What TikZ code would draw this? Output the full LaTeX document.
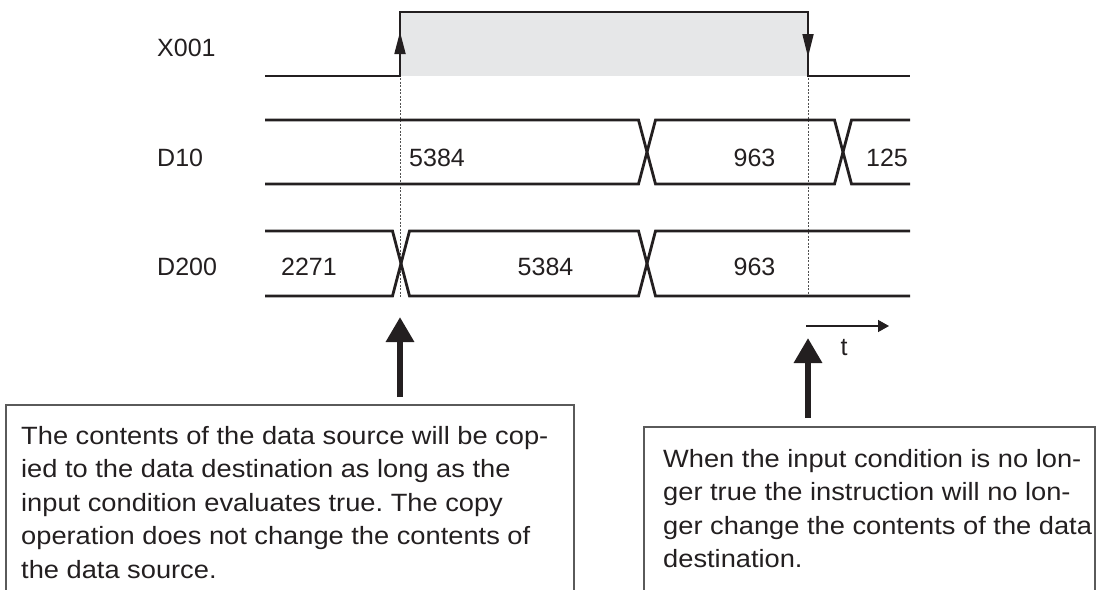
\documentclass[tikz,border=0pt]{standalone}
\usepackage{fontspec}
\setmainfont{Liberation Sans}
\newfontfamily\bodyfont[FakeStretch=1.09]{Liberation Sans}
\usetikzlibrary{arrows.meta}
\definecolor{fillgray}{HTML}{E6E7E8}
\definecolor{dashgray}{HTML}{505050}
\definecolor{boxgray}{HTML}{5A5A5A}
\definecolor{ink}{HTML}{231F20}
\frenchspacing
\tikzset{
  sig/.style={line width=2.8pt, ink},
  lbl/.style={font=\fontsize{25}{30}\selectfont, anchor=base west, inner sep=0pt, text=ink},
  val/.style={font=\fontsize{25}{30}\selectfont, anchor=base, inner sep=0pt, text=ink},
  note/.style={font=\bodyfont\fontsize{25}{33.5}\selectfont\frenchspacing, anchor=base west, inner sep=0pt, align=left, text=ink},
  cue/.style={dashgray, line width=0.9pt, dash pattern=on 2pt off 1.5pt},
  bigarrow/.style={ink, line width=6.5pt, -{Triangle[length=25pt,width=27pt]}},
  tarrow/.style={ink, line width=1.4pt, -{Triangle[length=11pt,width=12pt]}},
  notebox/.style={draw=boxgray, line width=1.2pt},
}
\begin{document}
\begin{tikzpicture}[x=1pt,y=-1pt]
\useasboundingbox (0,0) rectangle (1099,589);
\clip (0,0) rectangle (1099,589);
% X001
\fill[fillgray] (400,12) rectangle (808,76);
\draw[sig] (265,76) -- (400,76) -- (400,12) -- (808,12) -- (808,76) -- (910,76);
\fill[ink] (400,32) -- (394.25,54) -- (405.75,54) -- cycle;
\fill[ink] (808,57) -- (802.25,34) -- (813.75,34) -- cycle;
% cue lines
\draw[cue] (400,78) -- (400,297);
\draw[cue] (808,78) -- (808,297);
% D10
\draw[sig] (265,120) -- (638.5,120) -- (655.5,184) -- (834.5,184) -- (851.5,120) -- (910,120);
\draw[sig] (265,184) -- (638.5,184) -- (655.5,120) -- (834.5,120) -- (851.5,184) -- (910,184);
% D200
\draw[sig] (265,231) -- (392.5,231) -- (409.5,296) -- (638.5,296) -- (655.5,231) -- (910,231);
\draw[sig] (265,296) -- (392.5,296) -- (409.5,231) -- (638.5,231) -- (655.5,296) -- (910,296);
% labels
\node[lbl] (lx) at (157,56) {X001};
\node[lbl] (ld10) at (157,166) {D10};
\node[lbl] (ld200) at (157,275) {D200};
\node[lbl] (v1) at (409,166) {5384};
\node[val] (v2) at (754.5,166) {963};
\node[val] (v3) at (887,166) {125};
\node[val] (v4) at (309,275) {2271};
\node[val] (v5) at (545.5,275) {5384};
\node[val] (v6) at (754.5,275) {963};
% time arrow
\coordinate (ts) at (806,326);
\coordinate (te) at (889,326);
\draw[tarrow] (ts) -- (te);
\node[val] (tl) at (844,355) {t};
% notes
\draw[notebox] (6,405) rectangle (574,600);
\draw[notebox] (644,427) rectangle (1095,600);
\node[note] (n1) at (21,578) {The contents of the data source will be cop-\\ied to the data destination as long as the\\input condition evaluates true. The copy\\operation does not change the contents of\\the data source.};
\node[note] (n2) at (663,567.5) {When the input condition is no lon-\\ger true the instruction will no lon-\\ger change the contents of the data\\destination.};
% big arrows
\coordinate (a1s) at (400,397);
\coordinate (a1t) at (400,317);
\coordinate (a2s) at (808,418);
\coordinate (a2t) at (808,338);
\draw[bigarrow] (a1s) -- (a1t);
\draw[bigarrow] (a2s) -- (a2t);
\end{tikzpicture}
\end{document}
